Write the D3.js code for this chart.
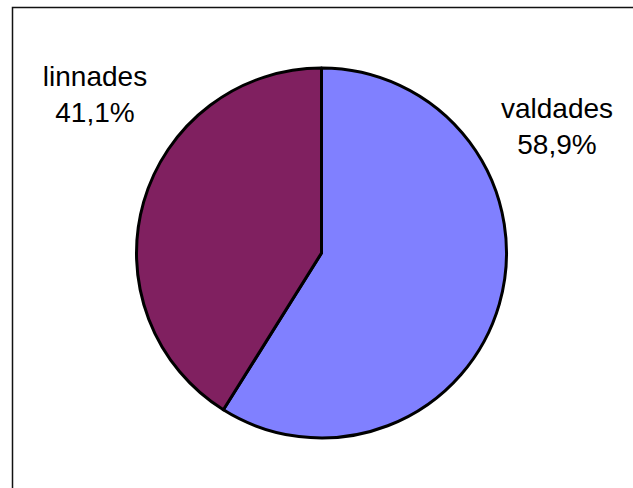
<!DOCTYPE html>
<html>
<head>
<meta charset="utf-8">
<script src="https://cdn.jsdelivr.net/npm/d3@7"></script>
<style>
  body { margin: 0; background: #fff; }
  svg { display: block; }
</style>
</head>
<body>
<div id="chart"></div>
<script>
const labels = ["valdades", "linnades"];
const values = [58.9, 41.1];
const colors = ["#8080FF", "#802060"];

const width = 633;
const height = 488;
const cx = 321.5;
const cy = 253;
const radius = 185;

const svg = d3
  .select("#chart")
  .append("svg")
  .attr("width", width)
  .attr("height", height);

// Chart frame (runs off the right and bottom)
svg
  .append("rect")
  .attr("x", 12.5)
  .attr("y", 7.5)
  .attr("width", 700)
  .attr("height", 600)
  .attr("fill", "none")
  .attr("stroke", "#111")
  .attr("stroke-width", 1.5);

const data = labels.map((l, i) => ({ label: l, value: values[i], color: colors[i] }));

const pie = d3.pie().sort(null).value((d) => d.value);
const arc = d3.arc().innerRadius(0).outerRadius(radius);

const g = svg.append("g").attr("transform", `translate(${cx},${cy})`);

g.selectAll("path")
  .data(pie(data))
  .enter()
  .append("path")
  .attr("d", arc)
  .attr("fill", (d) => d.data.color)
  .attr("stroke", "#000")
  .attr("stroke-width", 3)
  .attr("stroke-linejoin", "round");

// Labels placed outside the pie
const fmt = (v) => v.toFixed(1).replace(".", ",") + "%";
const labelPos = { valdades: [557, 118], linnades: [95, 86] };

data.forEach((d) => {
  const [x, y] = labelPos[d.label];
  const t = svg
    .append("text")
    .attr("text-anchor", "middle")
    .attr("font-family", "'Liberation Sans', Arial, sans-serif")
    .attr("font-size", 28)
    .attr("fill", "#000");
  t.append("tspan").attr("x", x).attr("y", y).text(d.label);
  t.append("tspan").attr("x", x).attr("y", y + 36).text(fmt(d.value));
});
</script>
</body>
</html>
